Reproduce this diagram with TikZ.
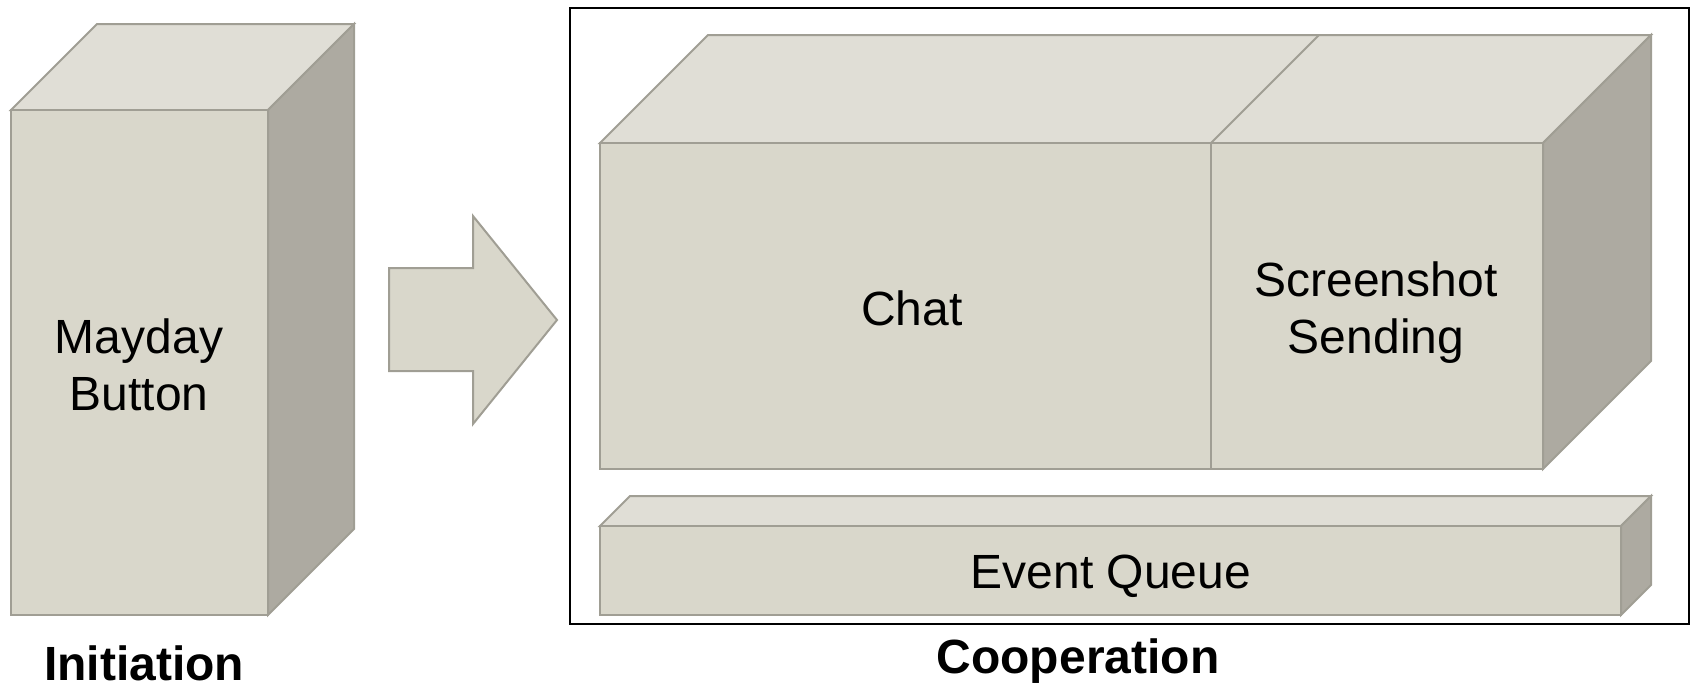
\documentclass[tikz,border=0pt]{standalone}
\usepackage{fontspec}
\setmainfont{Liberation Sans}
\begin{document}
\begin{tikzpicture}[x=0.5pt, y=-0.5pt,
  face/.style={draw=edgegray, line width=1pt, line join=miter},
  frontface/.style={face, fill=frontfill},
  topface/.style={face, fill=topfill},
  sideface/.style={face, fill=sidefill},
  lbl/.style={font=\fontsize{24}{28.5}\selectfont, align=center, text=black, inner sep=0pt},
  caption/.style={font=\fontsize{24}{28.5}\selectfont\bfseries, text=black, inner sep=0pt},
]
\definecolor{frontfill}{HTML}{D9D7CB}
\definecolor{topfill}{HTML}{E0DED6}
\definecolor{sidefill}{HTML}{ADAAA1}
\definecolor{edgegray}{HTML}{A09E94}

% canvas
\useasboundingbox (0,0) rectangle (1694,687);

% cuboid: front rectangle (#1,#2)-(#3,#4), depth #5
\newcommand\mycuboid[5]{%
  \path[topface] (#1,#2) -- ++(#5,-#5) -- (#3+#5,#2-#5) -- (#3,#2) -- cycle;
  \path[sideface] (#3,#2) -- ++(#5,-#5) -- (#3+#5,#4-#5) -- (#3,#4) -- cycle;
  \path[frontface] (#1,#2) rectangle (#3,#4);
}

% Initiation block
\mycuboid{11}{110}{268}{615}{86}
\node[lbl] (mayday) at (139,365) {Mayday\\Button};
\node[caption] (initiation) at (144,663) {Initiation};

% transition arrow
\path[frontface] (389,268) -- (473,268) -- (473,216) -- (557,320)
  -- (473,424) -- (473,371) -- (389,371) -- cycle;

% Cooperation frame
\draw[black, line width=1.3pt] (570,8) rectangle (1689,624);

% Chat + Screenshot block
\mycuboid{600}{143}{1543}{469}{108}
\draw[face] (1211,143) -- (1211,469);
\draw[face] (1211,143) -- (1319,35);
\node[lbl] (chat) at (912,308) {Chat};
\node[lbl] (shot) at (1376,313) {Screenshot\\Sending};

% Event queue bar
\mycuboid{600}{526}{1621}{615}{30}
\node[lbl] (queue) at (1111,576) {Event Queue};

\node[caption] (cooperation) at (1078,661) {Cooperation};
\end{tikzpicture}
\end{document}
